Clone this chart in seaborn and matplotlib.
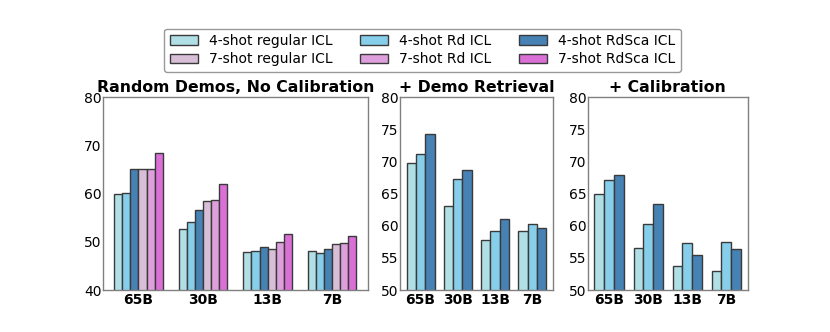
import pandas as pd
import matplotlib
matplotlib.use("Agg")
import matplotlib.pyplot as plt
import seaborn as sns

# model sizes on the x axis
models = ["65B", "30B", "13B", "7B"]

# panel 1: random demos, no calibration
reg4_p1 = [59.8, 52.7, 47.8, 48.0]
rd4_p1 = [60.2, 54.0, 48.0, 47.7]
rdsca4_p1 = [65.0, 56.5, 48.9, 48.4]
reg7_p1 = [65.1, 58.5, 48.6, 49.6]
rd7_p1 = [65.0, 58.6, 49.9, 49.8]
rdsca7_p1 = [68.3, 61.9, 51.6, 51.1]

# panel 2: + demo retrieval
reg4_p2 = [69.8, 63.0, 57.8, 59.1]
rd4_p2 = [71.2, 67.3, 59.1, 60.2]
rdsca4_p2 = [74.2, 68.6, 61.1, 59.7]

# panel 3: + calibration
reg4_p3 = [65.0, 56.6, 53.8, 53.0]
rd4_p3 = [67.1, 60.3, 57.3, 57.4]
rdsca4_p3 = [67.8, 63.3, 55.5, 56.3]

labels6 = ["4-shot regular ICL", "4-shot Rd ICL", "4-shot RdSca ICL",
           "7-shot regular ICL", "7-shot Rd ICL", "7-shot RdSca ICL"]
colors6 = ["powderblue", "skyblue", "steelblue", "thistle", "plum", "orchid"]


def to_long(series, names):
    rows = []
    for name, vals in zip(names, series):
        for m, v in zip(models, vals):
            rows.append({"model": m, "setting": name, "acc": v})
    return pd.DataFrame(rows)


df1 = to_long([reg4_p1, rd4_p1, rdsca4_p1, reg7_p1, rd7_p1, rdsca7_p1], labels6)
df2 = to_long([reg4_p2, rd4_p2, rdsca4_p2], labels6[:3])
df3 = to_long([reg4_p3, rd4_p3, rdsca4_p3], labels6[:3])

sns.set_style("white")
plt.rcParams['font.family'] = ['DejaVu Sans']
plt.rcParams['text.color'] = 'black'
plt.rcParams['xtick.color'] = 'black'
plt.rcParams['ytick.color'] = 'black'

fig = plt.figure(figsize=(8.3, 3.32), dpi=100)
ax1 = fig.add_axes([0.124, 0.1265, 0.319, 0.5813])
ax2 = fig.add_axes([0.482, 0.1265, 0.184, 0.5813])
ax3 = fig.add_axes([0.708, 0.1265, 0.193, 0.5813])

panels = [
    (ax1, df1, labels6, colors6, "Random Demos, No Calibration", (40, 80), [40, 50, 60, 70, 80]),
    (ax2, df2, labels6[:3], colors6[:3], "+ Demo Retrieval", (50, 80), [50, 55, 60, 65, 70, 75, 80]),
    (ax3, df3, labels6[:3], colors6[:3], "+ Calibration", (50, 80), [50, 55, 60, 65, 70, 75, 80]),
]

for ax, df, hue_order, pal, title, ylim, yticks in panels:
    sns.barplot(data=df, x="model", y="acc", hue="setting", hue_order=hue_order,
                palette=pal, saturation=1, width=0.75, edgecolor="#3a3a3a",
                linewidth=1, errorbar=None, ax=ax, legend=True)
    ax.set_ylim(*ylim)
    ax.set_yticks(yticks)
    ax.set_xlim(-0.55, 3.55)
    ax.set_xlabel("")
    ax.set_ylabel("")
    ax.set_title(title, fontsize=11.3, fontweight="bold", pad=3.6)
    ax.tick_params(axis="y", labelsize=10, length=0, pad=1)
    ax.tick_params(axis="x", labelsize=10, length=0, pad=2)
    for lab in ax.get_xticklabels():
        lab.set_fontweight("bold")
    for sp in ax.spines.values():
        sp.set_color("#808080")
        sp.set_linewidth(1)

handles, lbls = ax1.get_legend_handles_labels()
for ax in (ax1, ax2, ax3):
    ax.get_legend().remove()

order = [0, 3, 1, 4, 2, 5]
fig.legend([handles[i] for i in order], [lbls[i] for i in order],
           loc="upper center", bbox_to_anchor=(0.509, 0.935), ncol=3,
           fontsize=10, frameon=True, edgecolor="#808080",
           handlelength=2.0, columnspacing=2.0, borderpad=0.4,
           labelspacing=0.3)

fig.savefig("out.png", dpi=100)
